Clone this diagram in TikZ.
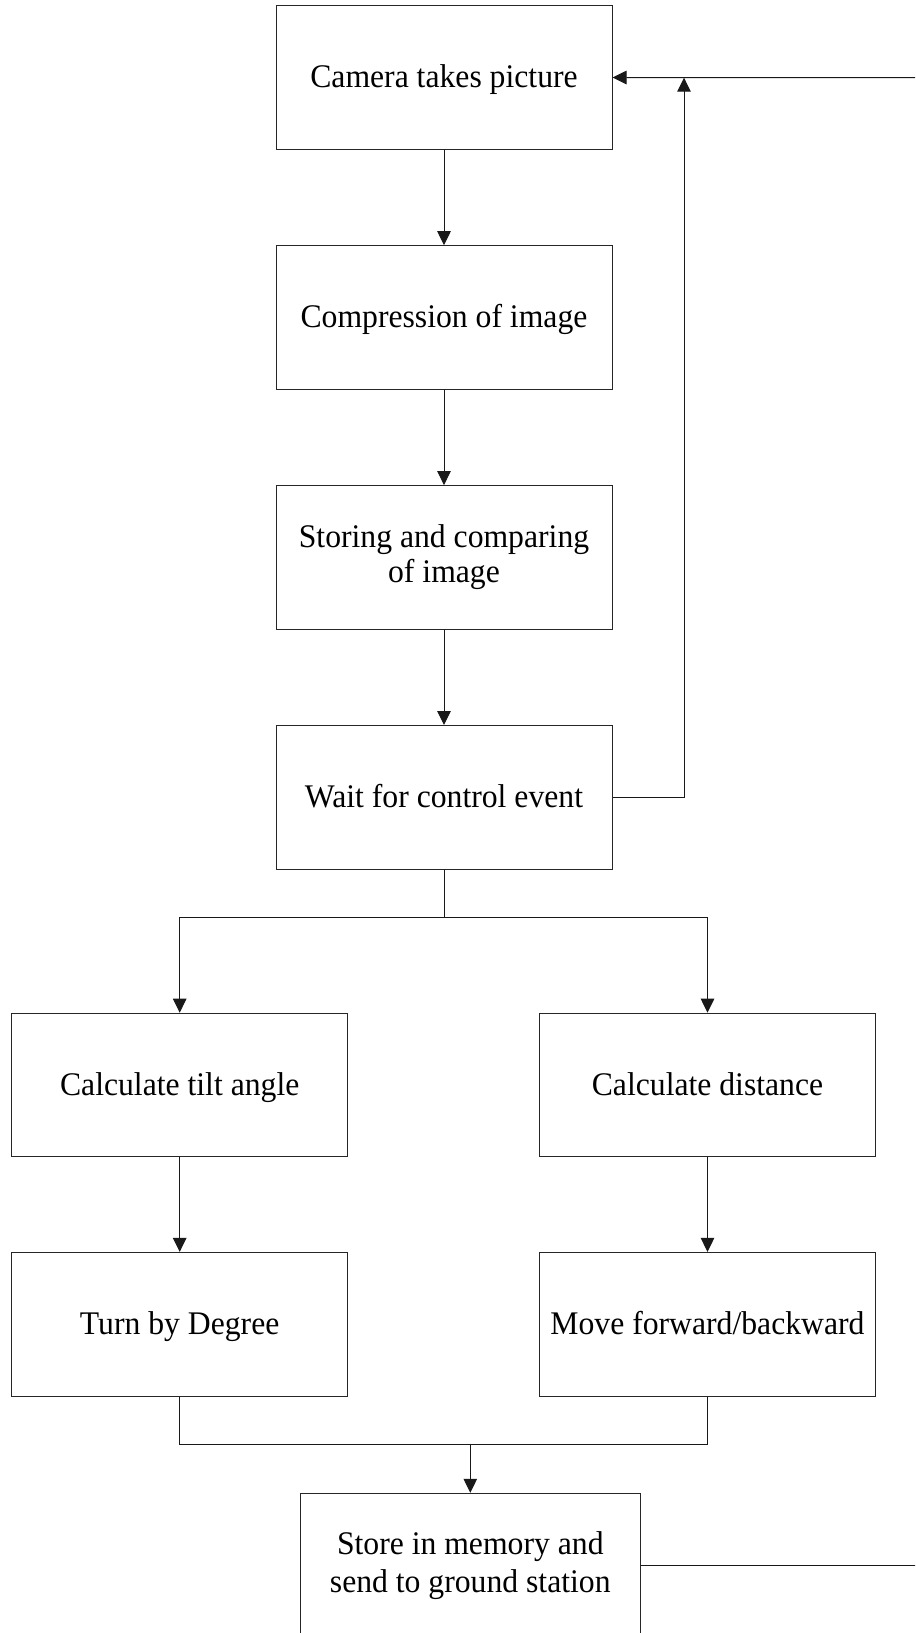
\documentclass[tikz,border=0pt]{standalone}
\usepackage{fontspec}
\setmainfont{Liberation Serif}[FakeStretch=0.96]
\usetikzlibrary{arrows.meta}
\tikzset{
  procbox/.style={draw=black!85, line width=1bp, rectangle, minimum width=336bp, minimum height=143.6bp,
    inner sep=0pt, align=center, font=\fontsize{33bp}{35bp}\selectfont},
  oneline/.style={text height=27bp, text depth=7bp},
  conn/.style={draw=black!90, line width=1bp},
  arr/.style={conn, -{Triangle[length=14bp,width=13.5bp]}}
}
\begin{document}
\begin{tikzpicture}[x=1bp, y=-1bp]
\useasboundingbox (0,0) rectangle (915,1633);
\clip (0,0) rectangle (915,1633);
\node[procbox, oneline] (cam)   at (444,77.5)   {Camera takes picture};
\node[procbox, oneline] (comp)  at (444,317.5)  {Compression of image};
\node[procbox] (stor)  at (444,557.4)  {Storing and comparing\\of image};
\node[procbox, oneline] (wait)  at (444,797.3)  {Wait for control event};
\node[procbox, oneline] (tilt)  at (179.7,1085) {Calculate tilt angle};
\node[procbox, oneline] (dist)  at (707.5,1085) {Calculate distance};
\node[procbox, oneline] (turn)  at (179.7,1324.2) {Turn by Degree};
\node[procbox, oneline] (move)  at (707.5,1324.2) {Move forward/backward};
\node[procbox, minimum width=340.6bp, font=\fontsize{33bp}{38bp}\selectfont] (store) at (470.3,1565.1) {Store in memory and\\send to ground station};
\coordinate (br) at (444,917.3);
\coordinate (mg) at (470.3,1444);
\coordinate (fbtop) at (684,77.7);
\coordinate (edgetop) at (916,77.7);
\coordinate (edgebot) at (916,1565.1);
\draw[arr] (cam) -- (comp);
\draw[arr] (comp) -- (stor);
\draw[arr] (stor) -- (wait);
\draw[conn] (wait.south) -- (br);
\draw[arr] (br) -| (tilt.north);
\draw[arr] (br) -| (dist.north);
\draw[arr] (tilt) -- (turn);
\draw[arr] (dist) -- (move);
\draw[conn] (turn.south) |- (mg) -| (move.south);
\draw[arr] (mg) -- (store.north);
\draw[arr] (wait.east) -| (fbtop);
\draw[arr] (edgetop) -- (cam.east);
\draw[conn] (store.east) -- (edgebot);
\end{tikzpicture}
\end{document}
